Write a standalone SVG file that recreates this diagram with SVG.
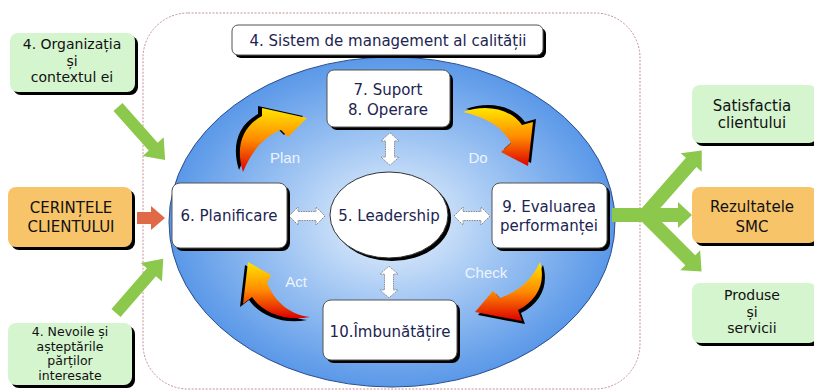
<svg xmlns="http://www.w3.org/2000/svg" width="814" height="392" viewBox="0 0 814 392">
<defs>
<radialGradient id="blue" cx="0.5" cy="0.5" r="0.5">
<stop offset="0" stop-color="#eef5fd"/>
<stop offset="0.45" stop-color="#a9cbf4"/>
<stop offset="1" stop-color="#5a98e8"/>
</radialGradient>
<linearGradient id="fire" x1="0" y1="0" x2="0" y2="1">
<stop offset="0" stop-color="#ffe600"/>
<stop offset="0.5" stop-color="#ff8a00"/>
<stop offset="1" stop-color="#dd0000"/>
</linearGradient>
<path id="dbl" d="M -18 0 L -9 -9 L -9 -4.5 L 9 -4.5 L 9 -9 L 18 0 L 9 9 L 9 4.5 L -9 4.5 L -9 9 Z"/>
</defs>
<style>
.txt{font-family:"DejaVu Sans","Liberation Sans",sans-serif;text-anchor:middle}
.inner{fill:#1c2452;font-size:15px}
.outer{fill:#111;font-size:15px}
.mid{font-size:14px}
.small{font-size:12.5px}
.pdca{font-family:"Liberation Sans",Arial,sans-serif;font-size:15px;fill:#eef4ff;text-anchor:middle}
.shadow{fill:#000}
.wbox{fill:#fff;stroke:#555;stroke-width:1}
.gbox{fill:#d5f5cf}
.obox{fill:#f8c46a}
.green{fill:#8cc84b}
.dblarr{fill:#fff;stroke:#777;stroke-width:0.9;stroke-dasharray:1.5 1}
.fire{fill:url(#fire)}
</style>
<rect width="814" height="392" fill="#fff"/>
<g id="frame">
<rect x="143" y="13" width="497" height="376" rx="45" fill="#fff" stroke="#c49090" stroke-width="1" stroke-dasharray="2 1.5"/>
</g>
<g id="cycle">
<ellipse cx="392" cy="222" rx="223" ry="165" fill="url(#blue)" stroke="#2c4f8f" stroke-width="1"/>
</g>
<g id="connectors">
<g id="plan-arrow">
<path class="shadow" transform="translate(-4,-2)" d="M 243 172 C 236 150 240 128 262 116 L 262 108 L 307 118 L 288 137 L 281 130 C 265 136 252 150 243 172 Z"/>
<path class="fire" d="M 243 172 C 236 150 240 128 262 116 L 262 108 L 307 118 L 288 137 L 281 130 C 265 136 252 150 243 172 Z"/>
</g>
<g id="do-arrow">
<path class="shadow" transform="translate(3,-3)" d="M 463 112 C 485 104 510 108 522 125 L 533 122 L 528 166 L 501 152 L 511 143 C 503 128 488 118 463 112 Z"/>
<path class="fire" d="M 463 112 C 485 104 510 108 522 125 L 533 122 L 528 166 L 501 152 L 511 143 C 503 128 488 118 463 112 Z"/>
</g>
<g id="check-arrow">
<path class="shadow" transform="translate(3,3)" d="M 540 262 C 546 282 538 300 518 310 L 522 321 L 475 312 L 493 291 L 500 298 C 518 292 532 280 540 262 Z"/>
<path class="fire" d="M 540 262 C 546 282 538 300 518 310 L 522 321 L 475 312 L 493 291 L 500 298 C 518 292 532 280 540 262 Z"/>
</g>
<g id="act-arrow">
<path class="shadow" transform="translate(-3,3)" d="M 310 317 C 290 315 275 302 267 283 L 271 275 L 248 262 L 243 304 L 252 297 C 262 312 285 322 310 317 Z"/>
<path class="fire" d="M 310 317 C 290 315 275 302 267 283 L 271 275 L 248 262 L 243 304 L 252 297 C 262 312 285 322 310 317 Z"/>
</g>
<text class="pdca" x="285" y="163">Plan</text>
<text class="pdca" x="478" y="163">Do</text>
<text class="pdca" x="486" y="278">Check</text>
<text class="pdca" x="296" y="287">Act</text>
<use href="#dbl" class="dblarr" transform="translate(390,149) rotate(90) scale(0.9,1)"/>
<use href="#dbl" class="dblarr" transform="translate(389,282) rotate(90) scale(0.88,1)"/>
<use href="#dbl" class="dblarr" transform="translate(307,216)"/>
<use href="#dbl" class="dblarr" transform="translate(472,216)"/>
<path class="green" transform="translate(118,107) rotate(48.4)" d="M 0 -6 L 53 -6 L 53 -14 L 71 0 L 53 14 L 53 6 L 0 6 Z"/>
<path class="green" transform="translate(116,313) rotate(-49)" d="M 0 -6 L 54 -6 L 54 -14 L 72 0 L 54 14 L 54 6 L 0 6 Z"/>
<path fill="#e06a48" transform="translate(137,218)" d="M 0 -6 L 14 -6 L 14 -12 L 28 0 L 14 12 L 14 6 L 0 6 Z"/>
<path class="green" transform="translate(612,215)" d="M 0 -7 L 66 -7 L 66 -13 L 80 0 L 66 13 L 66 7 L 0 7 Z"/>
<path class="green" transform="translate(645,215) rotate(-48.7)" d="M 0 -7 L 70 -7 L 70 -14 L 86 0 L 70 14 L 70 7 L 0 7 Z"/>
<path class="green" transform="translate(645,215) rotate(45)" d="M 0 -7 L 64 -7 L 64 -14 L 80 0 L 64 14 L 64 7 L 0 7 Z"/>
</g>
<g id="title">
<rect class="shadow" x="235" y="28" width="311" height="30" rx="6"/>
<rect class="wbox" x="232" y="25" width="311" height="30" rx="6"/>
<text class="txt inner" x="388" y="46" font-size="16">4. Sistem de management al calității</text>
</g>
<g id="suport">
<rect class="shadow" x="330" y="73" width="123" height="57" rx="7"/>
<rect class="wbox" x="327" y="70" width="123" height="57" rx="7"/>
<text class="txt inner" x="388" y="95">7. Suport</text>
<text class="txt inner" x="388" y="115">8. Operare</text>
</g>
<g id="leadership">
<ellipse class="shadow" cx="392" cy="218" rx="59" ry="43"/>
<ellipse cx="389" cy="215" rx="59" ry="43" fill="#fff" stroke="#333" stroke-width="1"/>
<text class="txt inner" x="389" y="221">5. Leadership</text>
</g>
<g id="planificare">
<rect class="shadow" x="175" y="186" width="115" height="65" rx="8"/>
<rect class="wbox" x="172" y="183" width="115" height="65" rx="8"/>
<text class="txt inner" x="229" y="221">6. Planificare</text>
</g>
<g id="evaluarea">
<rect class="shadow" x="495" y="186" width="115" height="65" rx="8"/>
<rect class="wbox" x="492" y="183" width="115" height="65" rx="8"/>
<text class="txt inner" x="549" y="212">9. Evaluarea</text>
<text class="txt inner" x="549" y="231">performanței</text>
</g>
<g id="imbunatatire">
<rect class="shadow" x="326" y="303" width="134" height="60" rx="8"/>
<rect class="wbox" x="323" y="300" width="134" height="60" rx="8"/>
<text class="txt inner" x="390" y="337">10.Îmbunătățire</text>
</g>
<g id="organizatia">
<rect class="shadow" x="13" y="36" width="125" height="59" rx="8"/>
<rect class="gbox" x="10" y="33" width="125" height="59" rx="8"/>
<text class="txt outer mid" x="72" y="49">4. Organizația</text>
<text class="txt outer mid" x="72" y="65.5">și</text>
<text class="txt outer mid" x="72" y="82">contextul ei</text>
</g>
<g id="cerintele">
<rect class="shadow" x="11" y="190" width="124" height="60" rx="8"/>
<rect class="obox" x="8" y="187" width="124" height="60" rx="8"/>
<text class="txt outer" x="71" y="213">CERINȚELE</text>
<text class="txt outer" x="71" y="232">CLIENTULUI</text>
</g>
<g id="nevoile">
<rect class="shadow" x="11" y="326" width="124" height="62" rx="8"/>
<rect class="gbox" x="8" y="323" width="124" height="62" rx="8"/>
<text class="txt outer small" x="70" y="336">4. Nevoile și</text>
<text class="txt outer small" x="70" y="350.5">așteptările</text>
<text class="txt outer small" x="70" y="365">părților</text>
<text class="txt outer small" x="70" y="379.5">interesate</text>
</g>
<g id="satisfactia">
<rect class="shadow" x="695" y="88" width="125" height="58" rx="8"/>
<rect class="gbox" x="692" y="85" width="125" height="58" rx="8"/>
<text class="txt outer" x="752" y="111">Satisfactia</text>
<text class="txt outer" x="752" y="128">clientului</text>
</g>
<g id="rezultatele">
<rect class="shadow" x="695" y="190" width="125" height="56" rx="8"/>
<rect class="obox" x="692" y="187" width="125" height="56" rx="8"/>
<text class="txt outer" x="752" y="212">Rezultatele</text>
<text class="txt outer" x="752" y="232">SMC</text>
</g>
<g id="produse">
<rect class="shadow" x="695" y="286" width="125" height="60" rx="8"/>
<rect class="gbox" x="692" y="283" width="125" height="60" rx="8"/>
<text class="txt outer mid" x="752" y="300">Produse</text>
<text class="txt outer mid" x="752" y="316.5">și</text>
<text class="txt outer mid" x="752" y="333">servicii</text>
</g>
</svg>
